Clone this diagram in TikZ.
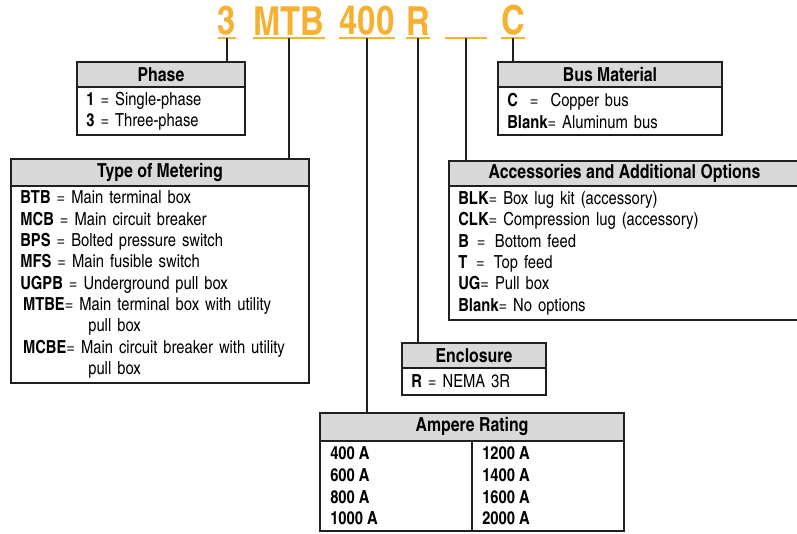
\documentclass[tikz,border=0pt]{standalone}
\usepackage{fontspec}
\setmainfont{texgyreheroscn}[Extension=.otf, UprightFont=*-regular, BoldFont=*-bold]
\usetikzlibrary{positioning}
\definecolor{corange}{HTML}{F6B133}
\definecolor{cline}{HTML}{231F20}
\definecolor{chead}{HTML}{D9D9D9}
\tikzset{
  every picture/.style={x=0.75pt, y=-0.75pt},
  hdr/.style={draw=cline, fill=chead, line width=1.1pt, inner sep=0pt, outer sep=0pt, anchor=north west, font=\fontsize{14.5}{16}\selectfont\bfseries, minimum height=18.75pt},
  body/.style={draw=cline, fill=white, line width=1.1pt, inner xsep=7pt, inner ysep=0pt, outer sep=0pt, align=left, font=\fontsize{13.5}{16}\selectfont},
  cols/.style={inner sep=0pt, align=left, font=\fontsize{13.5}{16.25}\selectfont\bfseries},
  code/.style={text=corange, font=\fontsize{30}{30}\selectfont\bfseries, inner xsep=0pt, inner ysep=2pt, anchor=south},
  uline/.style={draw=corange, line width=2.2pt},
  link/.style={draw=cline, line width=1.5pt},
}

\begin{document}
\begin{tikzpicture}
  \useasboundingbox (0,0) rectangle (797,533);
  % catalog number
  \node[code] (cph) at (227,38) {3};
  \node[code] (cmet) at (289,38) {MTB};
  \node[code] (camp) at (367,38) {400};
  \node[code] (cenc) at (418,38) {R};
  \node[code, minimum width=31.5pt] (cacc) at (466,38) {};
  \node[code] (cbus) at (513,38) {C};
  \foreach \c in {cph,cmet,camp,cenc,cacc,cbus}
    \draw[uline] (\c.south west) -- (\c.south east);
  % phase
  \node[hdr, minimum width=126pt] (phaseh) at (77,62) {Phase};
  \node[body, text width=112pt, minimum height=36pt, below=0pt of phaseh] (phase) {\textbf{1} = Single-phase\\ \textbf{3} = Three-phase};
  \draw[link] (cph.south) -- (cph.south |- phaseh.north);
  % metering
  \node[hdr, minimum width=223.5pt, minimum height=20.25pt] (meth) at (11,159) {Type of Metering};
  \node[body, text width=209.5pt, minimum height=147.75pt, below=0pt of meth] (met) {\textbf{BTB} = Main terminal box\\
    \textbf{MCB} = Main circuit breaker\\
    \textbf{BPS} = Bolted pressure switch\\
    \textbf{MFS} = Main fusible switch\\
    \textbf{UGPB} = Underground pull box\\
    \hspace*{2pt}\textbf{MTBE}= Main terminal box with utility\\
    \hspace*{51pt}pull box\\
    \hspace*{2pt}\textbf{MCBE}= Main circuit breaker with utility\\
    \hspace*{51pt}pull box};
  \draw[link] (cmet.south) -- (cmet.south |- meth.north);
  % bus
  \node[hdr, minimum width=168pt] (bush) at (498,62) {Bus Material};
  \node[body, text width=154pt, minimum height=36pt, below=0pt of bush] (bus) {\textbf{C} \ = \ Copper bus\\ \textbf{Blank}= Aluminum bus};
  \draw[link] (cbus.south) -- (cbus.south |- bush.north);
  % accessories
  \node[hdr, minimum width=263.25pt] (acch) at (449,161) {Accessories and Additional Options};
  \node[body, text width=249.25pt, minimum height=100.5pt, below=0pt of acch] (acc) {\textbf{BLK}= Box lug kit (accessory)\\
    \textbf{CLK}= Compression lug (accessory)\\
    \textbf{B}\hspace{6pt}=\hspace{7pt}Bottom feed\\
    \textbf{T}\hspace{6.5pt}=\hspace{7pt}Top feed\\
    \textbf{UG}= Pull box\\
    \textbf{Blank}= No options};
  \draw[link] (cacc.south) -- (cacc.south |- acch.north);
  % enclosure
  \node[hdr, minimum width=108pt] (ench) at (402,343) {Enclosure};
  \node[body, text width=94pt, minimum height=20.25pt, below=0pt of ench] (enc) {\textbf{R} = NEMA 3R};
  \draw[link] (cenc.south) -- (cenc.south |- ench.north);
  % ampere rating
  \node[hdr, minimum width=228pt, minimum height=21pt] (amph) at (320,413) {Ampere Rating};
  \node[body, minimum width=228pt, minimum height=67.5pt, below=0pt of amph] (amp) {};
  \draw[cline, line width=0.8pt] (amph.south) -- (amp.south);
  \node[cols, anchor=west] (ampl) at ([xshift=7.5pt]amp.west) {400 A\\ 600 A\\ 800 A\\ 1000 A};
  \node[cols, anchor=west] (ampr) at ([xshift=7.5pt]amp.center) {1200 A\\ 1400 A\\ 1600 A\\ 2000 A};
  \draw[link] (camp.south) -- (camp.south |- amph.north);
\end{tikzpicture}
\end{document}
